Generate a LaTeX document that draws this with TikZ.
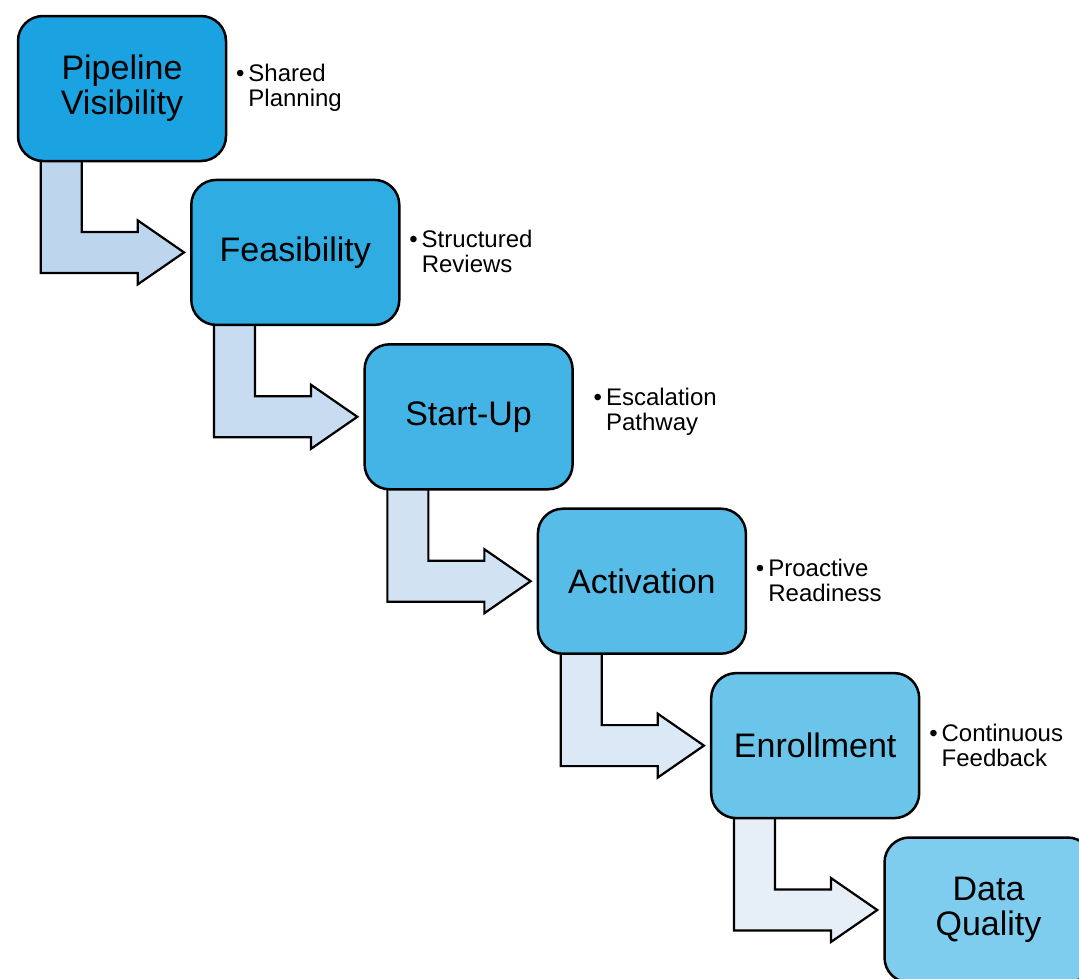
\documentclass[tikz,border=0pt]{standalone}
\usepackage{fontspec}
\setmainfont{Liberation Sans}
\usetikzlibrary{calc,backgrounds}
\definecolor{cA}{HTML}{1BA3E1}
\definecolor{cB}{HTML}{2FACE1}
\definecolor{cC}{HTML}{43B4E5}
\definecolor{cD}{HTML}{57BDE8}
\definecolor{cE}{HTML}{6BC5EA}
\definecolor{cF}{HTML}{7FCDEE}
\definecolor{aA}{HTML}{BDD6EE}
\definecolor{aB}{HTML}{C7DCF1}
\definecolor{aC}{HTML}{D1E2F3}
\definecolor{aD}{HTML}{DBE8F6}
\definecolor{aE}{HTML}{E6EEF8}
\tikzset{
  stagebox/.style={draw=black, line width=2.5pt, rounded corners=25pt,
    minimum width=208pt, minimum height=145pt, inner sep=0pt, align=center,
    font=\fontsize{34}{35}\selectfont},
  sidetext/.style={anchor=west, inner sep=0pt, align=left,
    font=\fontsize{24}{25}\selectfont},
  bentarrow/.style={draw=black, line width=2.2pt, line join=miter},
}
\newcommand{\bul}{\leavevmode\llap{\textbullet\hspace{4pt}}}
\newcommand{\bentarrow}[3]{%
  \draw[bentarrow, fill=#3] let \p1=(#1.south west), \p2=(#2.west) in
    (\x1+24,\y1+6) -- (\x1+24,\y2-20.5) -- (\x1+121,\y2-20.5) -- (\x1+121,\y2-32)
    -- (\x2-6,\y2) -- (\x1+121,\y2+32) -- (\x1+121,\y2+20.5) -- (\x1+65,\y2+20.5)
    -- (\x1+65,\y1+6) -- cycle;}
\begin{document}
\begin{tikzpicture}[x=1pt,y=-1pt]
\useasboundingbox (0,0) rectangle (1079,978);
\clip (0,0) rectangle (1079,978);
\node[stagebox, fill=cA] (b1) at (122,88.5) {Pipeline\\Visibility};
\node[stagebox, fill=cB] (b2) at (295.3,252.4) {Feasibility};
\node[stagebox, fill=cC] (b3) at (468.6,416.8) {Start-Up};
\node[stagebox, fill=cD] (b4) at (641.9,581.2) {Activation};
\node[stagebox, fill=cE] (b5) at (815.2,745.6) {Enrollment};
\node[stagebox, fill=cF] (b6) at (988.5,910) {Data\\Quality};
\begin{scope}[on background layer]
\bentarrow{b1}{b2}{aA}
\bentarrow{b2}{b3}{aB}
\bentarrow{b3}{b4}{aC}
\bentarrow{b4}{b5}{aD}
\bentarrow{b5}{b6}{aE}
\end{scope}
\node[sidetext] (s1) at ($(b1.east)+(21,-1)$) {\bul Shared\\Planning};
\node[sidetext] (s2) at ($(b2.east)+(21,-0.5)$) {\bul Structured\\Reviews};
\node[sidetext] (s3) at ($(b3.east)+(32,-5.5)$) {\bul Escalation\\Pathway};
\node[sidetext] (s4) at ($(b4.east)+(21,-0.5)$) {\bul Proactive\\Readiness};
\node[sidetext] (s5) at ($(b5.east)+(21,-0.5)$) {\bul Continuous\\Feedback};
\end{tikzpicture}
\end{document}
